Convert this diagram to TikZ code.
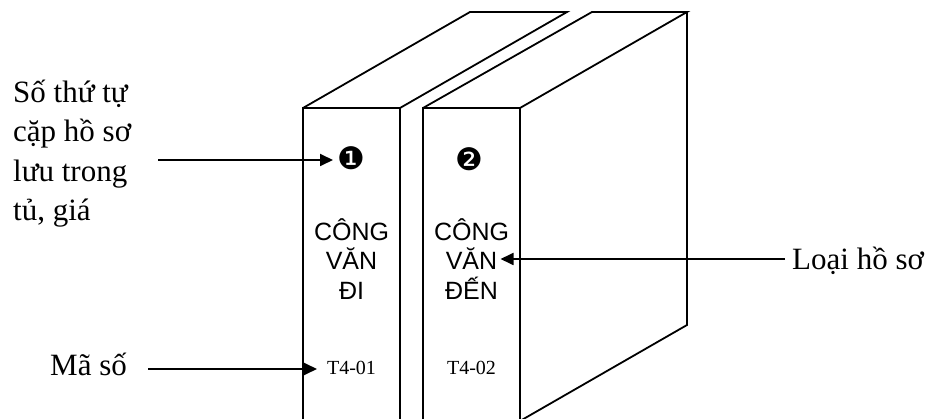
\documentclass[tikz,border=0pt]{standalone}
\usepackage{fontspec}
\setmainfont{Liberation Serif}
\newfontfamily\labelsans{Liberation Sans}
\newfontfamily\dingfont{DejaVu Sans}
\usetikzlibrary{arrows.meta}

\tikzset{
  edge/.style={line width=1.8pt, line join=miter},
  pointer/.style={line width=1.8pt, -{Triangle[length=13pt,width=12pt]}},
  caption/.style={inner sep=0pt, font=\fontsize{31}{39.5}\selectfont},
  spine/.style={inner sep=0pt, align=center, font=\labelsans\fontsize{25}{29.5}\selectfont},
  code/.style={inner sep=0pt, font=\fontsize{20}{24}\selectfont},
  badge/.style={inner sep=0pt, font=\dingfont\fontsize{31}{33}\selectfont}
}

\begin{document}
\begin{tikzpicture}[x=1pt, y=-1pt]
  \useasboundingbox (0,0) rectangle (942,419);
  \clip (0,0) rectangle (942,419);

  % first binder: front spine and top
  \draw[edge] (303,430) -- (303,108) -- (400,108) -- (400,430);
  \draw[edge] (303,108) -- (470,12) -- (567,12) -- (400,108);

  % second binder: front spine, top and right side
  \draw[edge] (423,430) -- (423,108) -- (520,108) -- (520,430);
  \draw[edge] (423,108) -- (592,12) -- (687,12) -- (520,108);
  \draw[edge] (687,12) -- (687,325) -- (520,421);

  % texts on the spines
  \node[badge] (n1) at (351,158) {❶};
  \node[badge] (n2) at (469,159) {❷};
  \node[spine] (c1) at (351.5,259) {CÔNG\\VĂN\\ĐI};
  \node[spine] (c2) at (471.5,259) {CÔNG\\VĂN\\ĐẾN};
  \node[code] (t1) at (351.5,368) {T4-01};
  \node[code] (t2) at (471.5,368) {T4-02};

  % labels
  \node[caption, align=left, anchor=base west] (order) at (13,221)
    {Số thứ tự\\cặp hồ sơ\\lưu trong\\tủ, giá};
  \node[caption, anchor=base west] (code) at (50,375) {Mã số};
  \node[caption, anchor=base west] (kind) at (792,270) {Loại hồ sơ};

  % pointers
  \coordinate (s1) at (158,160);
  \coordinate (s2) at (148,369);
  \draw[pointer] (s1) -- (s1 -| 333,0);
  \draw[pointer] (s2) -- (s2 -| 317,0);
  \draw[pointer] ([xshift=-7pt]kind.west |- c2) -- ([xshift=29pt]c2.center);
\end{tikzpicture}
\end{document}
